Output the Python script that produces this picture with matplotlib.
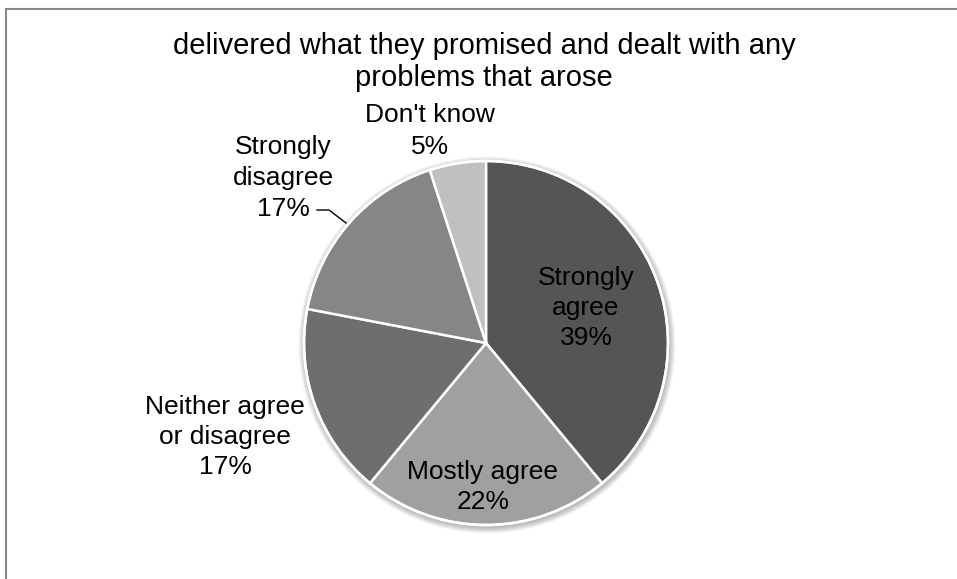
import matplotlib
matplotlib.use("Agg")
import matplotlib.pyplot as plt
from matplotlib.patches import Rectangle, Circle

plt.rcParams['font.family'] = ['Liberation Sans', 'DejaVu Sans']

labels = ["Strongly\nagree", "Mostly agree", "Neither agree\nor disagree", "Strongly\ndisagree", "Don't know"]
values = [39, 22, 17, 17, 5]
colors = ["#555555", "#a0a0a0", "#6e6e6e", "#868686", "#c0c0c0"]

W, H = 957, 579
fig = plt.figure(figsize=(W / 100, H / 100), dpi=100)

# outer chart border (left and top edges visible)
fig.add_artist(Rectangle((5.5 / W, -0.1), 1.2, 1 - 8.5 / H + 0.1, transform=fig.transFigure,
                         fill=False, edgecolor="#888888", linewidth=1.5))

cx, cy, r = 486, 343, 182
pad = 20
ax = fig.add_axes([(cx - r - pad) / W, (H - cy - r - pad) / H, 2 * (r + pad) / W, 2 * (r + pad) / H])

# soft drop shadow under the pie
for k in range(8, 0, -1):
    ax.add_patch(Circle((1.0, -2.0), r + k * 0.8, facecolor="#000000", alpha=0.035,
                        edgecolor="none", zorder=0))

wedges, _ = ax.pie(values, colors=colors, startangle=90, counterclock=False, radius=r,
                   wedgeprops=dict(edgecolor="white", linewidth=1.8), frame=False)
ax.add_patch(Circle((0, 0), r, facecolor="none", edgecolor="white", linewidth=1.8, zorder=5))
ax.set_xlim(-(r + pad), r + pad)
ax.set_ylim(-(r + pad), r + pad)
ax.set_aspect("auto")
ax.axis("off")

def fig_text(x, y, s, size=19, ls=1.3):
    fig.text(x / W, 1 - y / H, s, ha="center", va="center", fontsize=size,
             linespacing=ls, color="#000000")

fig_text(484, 62, "delivered what they promised and dealt with any\nproblems that arose", size=21, ls=1.22)

pct = [f"{v}%" for v in values]
fig_text(586, 308, f"{labels[0]}\n{pct[0]}")
fig_text(483, 487, f"{labels[1]}\n{pct[1]}")
fig_text(225, 437, f"{labels[2]}\n{pct[2]}")
fig_text(283, 178, f"{labels[3]}\n{pct[3]}", ls=1.38)
fig_text(430, 131, f"{labels[4]}\n{pct[4]}", ls=1.38)

# leader line for the "Strongly disagree" label
fig.add_artist(plt.Line2D([317 / W, 329 / W, 346 / W], [1 - 210 / H, 1 - 210 / H, 1 - 223 / H],
                          transform=fig.transFigure, color="#000000", linewidth=1))

fig.savefig("out.png", dpi=100)
